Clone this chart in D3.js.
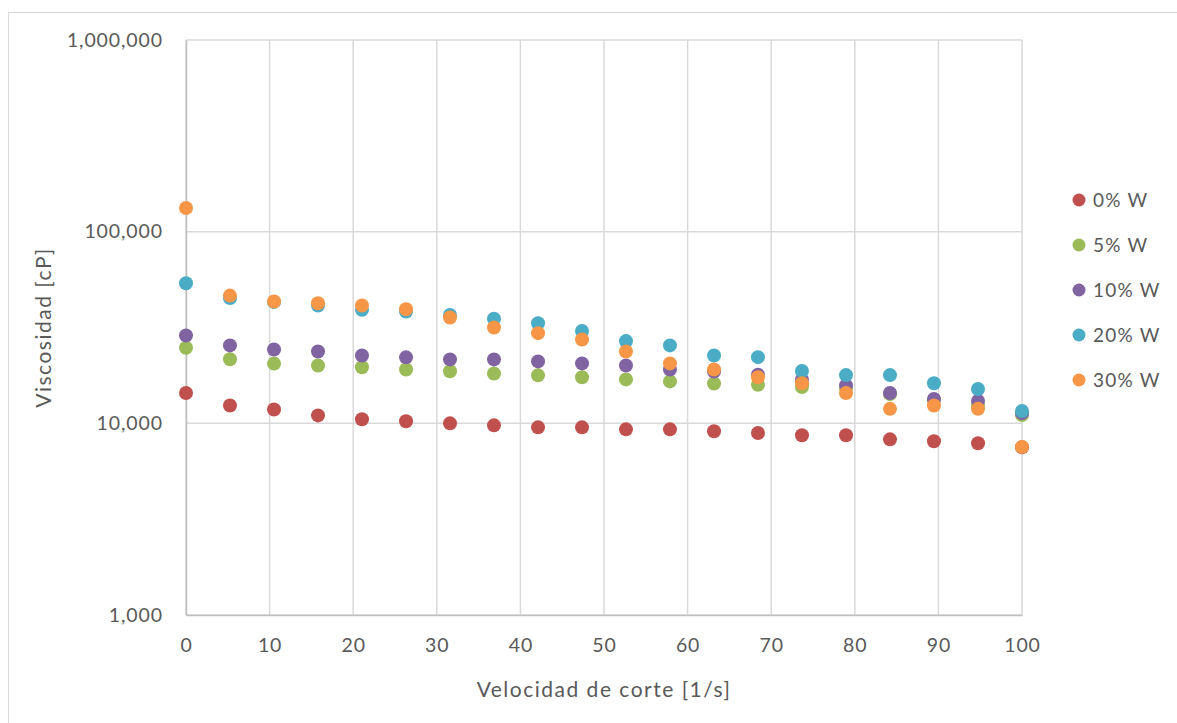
<!DOCTYPE html>
<html>
<head>
<meta charset="utf-8">
<script src="https://cdn.jsdelivr.net/npm/d3@7"></script>
<style>
  html, body { margin: 0; padding: 0; background: #fff; }
  svg { display: block; font-family: Lato, "Open Sans", sans-serif; }
</style>
</head>
<body>
<svg id="chart" width="1177" height="723"></svg>
<script>
// Shear rate samples (1/s)
const shearRate = [0, 5.26, 10.53, 15.79, 21.05, 26.32, 31.58, 36.84, 42.11, 47.37,
                   52.63, 57.89, 63.16, 68.42, 73.68, 78.95, 84.21, 89.47, 94.74, 100];

// Viscosity (cP) for each water content
const w0  = [14400, 12400, 11800, 11000, 10500, 10250, 10000, 9760, 9530, 9530,
             9300, 9300, 9090, 8900, 8660, 8660, 8250, 8060, 7870, 7500];
const w5  = [24800, 21600, 20500, 20050, 19600, 19100, 18700, 18200, 17800, 17400,
             16950, 16550, 16150, 15900, 15450, 15150, 14200, 13200, 12400, 11050];
const w10 = [28700, 25500, 24300, 23700, 22600, 22100, 21550, 21550, 21050, 20550,
             20050, 19100, 18650, 17950, 16900, 15750, 14400, 13400, 13100, 11300];
const w20 = [53800, 45100, 43000, 41200, 39100, 38300, 36800, 35100, 33300, 30300,
             26850, 25500, 22600, 22150, 18750, 17850, 17850, 16200, 15100, 11600];
const w30 = [132900, 46400, 43200, 42350, 41200, 39400, 35650, 31600, 29550, 27400,
             23700, 20550, 19100, 17400, 16200, 14400, 11900, 12400, 11900, 7530];

const seriesNames  = ["0% W", "5% W", "10% W", "20% W", "30% W"];
const seriesValues = [w0, w5, w10, w20, w30];
const seriesColors = ["#c0504d", "#9bbb59", "#8064a2", "#4bacc6", "#f79646"];

const xTicks = [0, 10, 20, 30, 40, 50, 60, 70, 80, 90, 100];
const yTicks = [1000, 10000, 100000, 1000000];

const svg = d3.select("#chart");
const plot = { left: 186, right: 1022, top: 40, bottom: 615 };

const x = d3.scaleLinear().domain([0, 100]).range([plot.left, plot.right]);
const y = d3.scaleLog().domain([1000, 1000000]).range([plot.bottom, plot.top]);

const textColor = "#595959";
const gridColor = "#d9d9d9";

// Outer chart frame
svg.append("rect")
  .attr("x", 8.5).attr("y", 12.5)
  .attr("width", 1180).attr("height", 720)
  .attr("fill", "none").attr("stroke", "#d9d9d9").attr("stroke-width", 1);

// Gridlines
svg.append("g")
  .selectAll("line")
  .data(xTicks)
  .join("line")
  .attr("x1", d => x(d)).attr("x2", d => x(d))
  .attr("y1", plot.top).attr("y2", plot.bottom)
  .attr("stroke", gridColor).attr("stroke-width", 1.5);

svg.append("g")
  .selectAll("line")
  .data(yTicks)
  .join("line")
  .attr("x1", plot.left).attr("x2", plot.right)
  .attr("y1", d => y(d)).attr("y2", d => y(d))
  .attr("stroke", gridColor).attr("stroke-width", 1.5);

// Axes
const fmt = d3.format(",");
const xAxis = svg.append("g")
  .attr("transform", `translate(0,${plot.bottom})`)
  .call(d3.axisBottom(x).tickValues(xTicks).tickSize(0).tickPadding(23).tickFormat(d3.format("d")));
const yAxis = svg.append("g")
  .attr("transform", `translate(${plot.left},0)`)
  .call(d3.axisLeft(y).tickValues(yTicks).tickSize(0).tickPadding(23).tickFormat(fmt));

[xAxis, yAxis].forEach(a => {
  a.select(".domain").attr("stroke", "#bfbfbf").attr("stroke-width", 1.5);
  a.selectAll("text")
    .attr("fill", textColor)
    .style("font-size", "19.5px")
    .style("letter-spacing", "0.9px")
    .style("font-family", "Lato, sans-serif");
});

// Axis titles
svg.append("text")
  .attr("x", (plot.left + plot.right) / 2)
  .attr("y", 697)
  .attr("text-anchor", "middle")
  .attr("fill", textColor)
  .style("font-size", "21px")
  .style("letter-spacing", "1.5px")
  .text("Velocidad de corte [1/s]");

svg.append("text")
  .attr("transform", `translate(51,${(plot.top + plot.bottom) / 2}) rotate(-90)`)
  .attr("text-anchor", "middle")
  .attr("fill", textColor)
  .style("font-size", "21px")
  .style("letter-spacing", "1.5px")
  .text("Viscosidad [cP]");

// Data points
seriesValues.forEach((vals, i) => {
  svg.append("g")
    .selectAll("circle")
    .data(vals.map((v, j) => [shearRate[j], v]))
    .join("circle")
    .attr("cx", d => x(d[0]))
    .attr("cy", d => y(d[1]))
    .attr("r", 7)
    .attr("fill", seriesColors[i]);
});

// Legend
const legend = svg.append("g").attr("transform", "translate(1079,200)");
const item = legend.selectAll("g")
  .data(seriesNames)
  .join("g")
  .attr("transform", (d, i) => `translate(0,${i * 45})`);
item.append("circle")
  .attr("r", 6.5)
  .attr("fill", (d, i) => seriesColors[i]);
item.append("text")
  .attr("x", 14)
  .attr("dy", "0.35em")
  .attr("fill", textColor)
  .style("font-size", "19px")
  .style("letter-spacing", "1.2px")
  .text(d => d);
</script>
</body>
</html>
